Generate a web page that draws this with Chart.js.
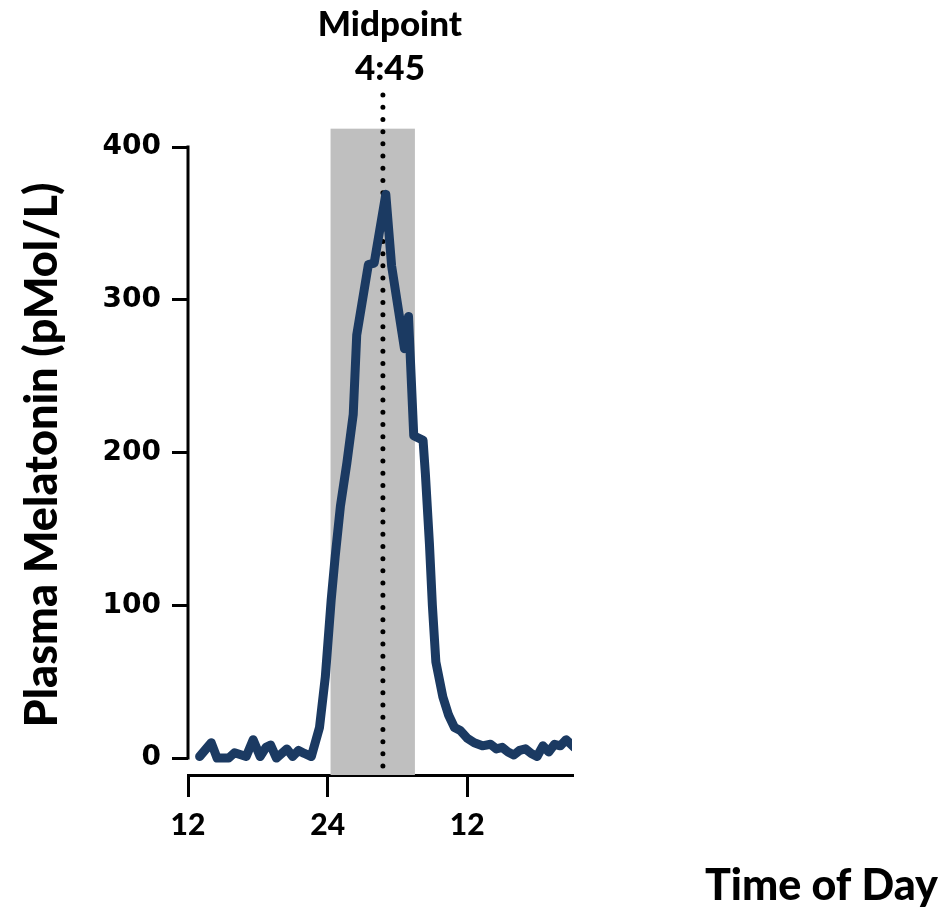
<!DOCTYPE html>
<html lang="en">
<head>
  <meta charset="UTF-8" />
  <title>Plasma Melatonin</title>
  <script src="https://cdn.jsdelivr.net/npm/chart.js"></script>
  <style>
    body { margin: 0; background: #fff; }
    #wrap { width: 941px; height: 909px; }
  </style>
</head>
<body>
  <div id="wrap"><canvas id="grafico" width="941" height="909"></canvas></div>

<script>
// clock hours, continuous across midnight (24 = midnight, 36 = next noon)
const horas = [
  13.0, 14.0, 14.5, 15.5, 16.0, 17.0, 17.6, 18.2, 18.7, 19.1, 19.6, 20.5, 21.0, 21.5, 22.0, 22.6,
  23.3, 23.8, 24.3, 24.65, 25.1, 25.65, 26.2, 26.5, 27.5, 28.0, 29.0, 29.5, 30.6, 30.95, 31.4, 32.2,
  32.4, 32.75, 33.0, 33.3, 33.9, 34.4, 34.9, 35.4, 36.0, 36.6, 37.3, 38.0, 38.5, 39.0, 39.5, 40.0,
  40.5, 41.0, 41.5, 42.0, 42.5, 43.0, 43.5, 44.0, 44.5, 45.2
];
// plasma melatonin, pMol/L
const melatonina = [
  1, 10, 0, 0, 3.5, 1, 12, 1, 7, 8.5, 0, 6, 1, 5, 3, 1,
  20, 53, 103, 132, 165, 193, 225, 277, 323, 324, 369, 322, 268, 289, 211, 208,
  186, 140, 100, 63, 40, 28, 20, 18, 13, 10, 8, 9, 6, 7, 4, 2,
  5, 6, 3, 1, 8, 4, 9, 8, 12, 7
];

const xTicks = [12, 24, 36];
const xTickLabels = ['12', '24', '12'];
const yTicks = [0, 100, 200, 300, 400];

// lights-off window and melatonin midpoint (hours)
const escuroInicio = 24.25;
const escuroFim = 31.5;
const escuroTopo = 412;
const pontoMedio = 28.75;
const pontoMedioTopo = 434;
const pontoMedioTexto = ['Midpoint', '4:45'];

const tituloY = 'Plasma Melatonin (pMol/L)';
const tituloX = 'Time of Day';

const fonteTexto = 'Lato, "Open Sans", sans-serif';

// grey band + dotted midpoint line under the curve, axis line and labels on top
const extras = {
  id: 'extras',
  beforeDatasetsDraw(chart) {
    const { ctx, chartArea, scales: { x, y } } = chart;
    ctx.save();
    ctx.fillStyle = '#bfbfbf';
    const x0 = x.getPixelForValue(escuroInicio);
    const x1 = x.getPixelForValue(escuroFim);
    const yt = y.getPixelForValue(escuroTopo);
    ctx.fillRect(x0, yt, x1 - x0, chartArea.bottom - yt);

    const xm = x.getPixelForValue(pontoMedio);
    ctx.strokeStyle = '#000';
    ctx.lineWidth = 5;
    ctx.lineCap = 'round';
    ctx.setLineDash([0, 12.2]);
    ctx.beginPath();
    ctx.moveTo(xm, y.getPixelForValue(pontoMedioTopo));
    ctx.lineTo(xm, chartArea.bottom + 3);
    ctx.stroke();
    ctx.restore();
  },
  afterDraw(chart) {
    const { ctx, chartArea, scales: { x, y } } = chart;
    ctx.save();
    // y axis line only spans 0..400
    ctx.strokeStyle = '#000';
    ctx.lineWidth = 3;
    ctx.beginPath();
    ctx.moveTo(chartArea.left, y.getPixelForValue(400) - 1.5);
    ctx.lineTo(chartArea.left, y.getPixelForValue(0) + 1.5);
    ctx.stroke();

    ctx.fillStyle = '#000';
    ctx.textAlign = 'center';
    ctx.textBaseline = 'alphabetic';
    ctx.font = '900 35px ' + fonteTexto;
    const xm = x.getPixelForValue(pontoMedio) + 7;
    ctx.fillText(pontoMedioTexto[0], xm, 36);
    ctx.fillText(pontoMedioTexto[1], xm, 80);

    ctx.font = '900 43px ' + fonteTexto;
    ctx.textAlign = 'right';
    ctx.fillText(tituloX, 938, 900);

    ctx.translate(57, 455);
    ctx.rotate(-Math.PI / 2);
    ctx.textAlign = 'center';
    ctx.font = '900 45px ' + fonteTexto;
    ctx.fillText(tituloY, 0, 0);
    ctx.restore();
  }
};

const ctx = document.getElementById('grafico').getContext('2d');
const grafico = new Chart(ctx, {
  type: 'line',
  data: {
    datasets: [{
      data: horas.map((h, i) => ({ x: h, y: melatonina[i] })),
      borderColor: '#1b3a62',
      borderWidth: 9,
      pointRadius: 0,
      tension: 0,
      borderJoinStyle: 'round',
      borderCapStyle: 'round'
    }]
  },
  options: {
    responsive: false,
    animation: false,
    devicePixelRatio: 1,
    layout: { padding: { top: 147, right: 369, left: 0, bottom: 0 } },
    plugins: { legend: { display: false }, tooltip: { enabled: false } },
    scales: {
      x: {
        type: 'linear',
        min: 12,
        max: 45,
        afterBuildTicks: s => { s.ticks = xTicks.map(v => ({ value: v })); },
        afterFit: s => { s.height = 134; },
        border: { display: true, color: '#000', width: 3 },
        grid: { drawOnChartArea: false, drawTicks: true, tickLength: 22, lineWidth: 3, color: '#000' },
        ticks: {
          autoSkip: false,
          maxRotation: 0,
          padding: 10,
          color: '#000',
          font: { family: fonteTexto, weight: '900', size: 30 },
          callback: (v, i) => xTickLabels[i]
        }
      },
      y: {
        min: -11.1,
        max: 400,
        afterBuildTicks: s => { s.ticks = yTicks.map(v => ({ value: v })); },
        afterFit: s => { s.width = 188; },
        border: { display: false },
        grid: { drawOnChartArea: false, drawTicks: true, tickLength: 16, lineWidth: 3, color: '#000' },
        ticks: {
          padding: 11,
          color: '#000',
          font: { family: '"DejaVu Sans", Verdana, sans-serif', weight: 'bold', size: 28 }
        }
      }
    }
  },
  plugins: [extras]
});
</script>
</body>
</html>
